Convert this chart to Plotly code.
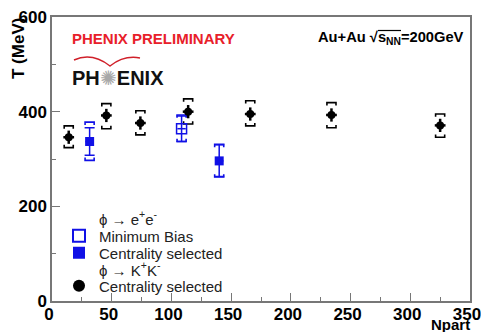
import plotly.graph_objects as go

# ---- data ----
kk_npart = [14, 45.5, 74, 114, 166, 234, 325]
kk_T = [346, 392, 376, 400, 395, 393, 371]
kk_stat = [14, 14, 14, 14, 14, 14, 14]
kk_xerr = [4.5, 4.5, 4.5, 4.5, 4.5, 4.5, 4.5]
kk_sys_hi = [370, 417, 402, 427, 423, 419, 395]
kk_sys_lo = [324, 364, 351, 374, 370, 366, 346]

ee_cent_npart = [31.5, 140]
ee_cent_T = [337, 296]
ee_cent_stat_up = [29, 34]
ee_cent_stat_dn = [29, 33]
ee_cent_sys_hi = [378, 331]
ee_cent_sys_lo = [297, 262]

ee_mb_npart = [108.5]
ee_mb_T = [364]
ee_mb_stat = [27]
ee_mb_sys_hi = [393]
ee_mb_sys_lo = [337]

x_ticks = [0, 50, 100, 150, 200, 250, 300, 350]
y_ticks = [0, 200, 400, 600]

BLUE = "#1010e6"
FONT = "Liberation Sans, Arial, sans-serif"

# plot area in pixels (for paper-coordinate decorations)
L, R, T, B = 52, 470, 17, 301


def px(xp, yp):
    return (xp - L) / (R - L), (B - yp) / (B - T)


def brackets(xs, his, los, w=3.8, h=6):
    bx, by = [], []
    for x, hi, lo in zip(xs, his, los):
        bx += [x - w, x - w, x + w, x + w, None, x - w, x - w, x + w, x + w, None]
        by += [hi - h, hi, hi, hi - h, None, lo + h, lo, lo, lo + h, None]
    return bx, by


fig = go.Figure()

# systematic brackets
for xs, his, los, col in [
    (kk_npart, kk_sys_hi, kk_sys_lo, "black"),
    (ee_cent_npart, ee_cent_sys_hi, ee_cent_sys_lo, BLUE),
    (ee_mb_npart, ee_mb_sys_hi, ee_mb_sys_lo, BLUE),
]:
    bx, by = brackets(xs, his, los)
    fig.add_trace(go.Scatter(x=bx, y=by, mode="lines", line=dict(color=col, width=1.6),
                             showlegend=False, hoverinfo="skip"))

# legend headers / points (one legend per row for exact spacing)
fig.add_trace(go.Scatter(x=[None], y=[None], mode="markers", name="ϕ → e<sup>+</sup>e<sup>-</sup>",
                         marker=dict(size=1, color="rgba(0,0,0,0)"), legend="legend"))
fig.add_trace(go.Scatter(x=ee_mb_npart, y=ee_mb_T, mode="markers", name="Minimum Bias",
                         marker=dict(symbol="square-open", size=10, color=BLUE, line=dict(width=1.5)),
                         error_y=dict(type="data", array=ee_mb_stat, color=BLUE, thickness=1.5, width=5),
                         error_x=dict(type="data", array=[3.5], color=BLUE, thickness=1.5, width=0),
                         legend="legend2"))
fig.add_trace(go.Scatter(x=ee_cent_npart, y=ee_cent_T, mode="markers", name="Centrality selected",
                         marker=dict(symbol="square", size=9, color=BLUE),
                         error_y=dict(type="data", array=ee_cent_stat_up, arrayminus=ee_cent_stat_dn,
                                      color=BLUE, thickness=1.5, width=5),
                         error_x=dict(type="data", array=[3.5, 3.5], color=BLUE, thickness=1.5, width=0),
                         legend="legend3"))
fig.add_trace(go.Scatter(x=[None], y=[None], mode="markers", name="ϕ → K<sup>+</sup>K<sup>-</sup>",
                         marker=dict(size=1, color="rgba(0,0,0,0)"), legend="legend4"))
fig.add_trace(go.Scatter(x=kk_npart, y=kk_T, mode="markers", name="Centrality selected",
                         marker=dict(symbol="circle", size=8, color="black"),
                         error_y=dict(type="data", array=kk_stat, color="black", thickness=2.5, width=0),
                         error_x=dict(type="data", array=kk_xerr, color="black", thickness=2.5, width=0),
                         legend="legend5"))

axis_common = dict(showline=True, linecolor="#777", linewidth=1.5, mirror=True,
                   ticks="inside", ticklen=8, tickcolor="#777", tickwidth=1.2,
                   showgrid=False, zeroline=False, automargin=False,
                   ticklabeloverflow="allow",
                   tickfont=dict(family=FONT, size=17, color="black", weight="bold"))


def leg(ypix):
    return dict(x=px(59, 0)[0], y=px(0, ypix)[1], xanchor="left", yanchor="middle",
                bgcolor="rgba(0,0,0,0)", borderwidth=0,
                font=dict(family=FONT, size=15, color="#222"), itemsizing="constant")


fig.update_layout(
    width=481, height=332,
    margin=dict(l=L, r=481 - R, t=T, b=332 - B, autoexpand=False),
    paper_bgcolor="white", plot_bgcolor="white",
    font=dict(family=FONT, color="black"),
    xaxis=dict(range=[0, 350], tickvals=x_ticks, ticklabelstandoff=-3, ticklabelshift=-3,
               minor=dict(dtick=25, ticklen=4, ticks="inside", tickcolor="#777"),
               **axis_common),
    yaxis=dict(range=[0, 600], tickvals=y_ticks,
               minor=dict(dtick=100, ticklen=4, ticks="inside", tickcolor="#777"),
               **axis_common),
    legend=leg(219), legend2=leg(236), legend3=leg(253), legend4=leg(270), legend5=leg(286),
    showlegend=True,
)

# text annotations
fig.add_annotation(xref="paper", yref="paper", x=px(19, 0)[0], y=px(0, 49)[1],
                   xanchor="center", yanchor="middle",
                   text="<b>T (MeV)</b>", textangle=-90, showarrow=False,
                   font=dict(family=FONT, size=17, color="black"))
fig.add_annotation(xref="paper", yref="paper", x=px(450, 0)[0], y=px(0, 325)[1],
                   xanchor="center", yanchor="middle",
                   text="<b>Npart</b>", showarrow=False,
                   font=dict(family=FONT, size=15, color="black"))
fig.add_annotation(xref="paper", yref="paper", x=px(70, 0)[0], y=px(0, 38)[1],
                   xanchor="left", yanchor="middle",
                   text="<b>PHENIX PRELIMINARY</b>", showarrow=False,
                   font=dict(family=FONT, size=15, color="#e8202a"))
fig.add_annotation(xref="paper", yref="paper", x=px(466, 0)[0], y=px(0, 38)[1],
                   xanchor="right", yanchor="middle",
                   text="<b>Au+Au √s<sub>NN</sub>=200GeV</b>",
                   showarrow=False, font=dict(family=FONT, size=14.7, color="black"))
# overline of the square root
o0, o1 = px(378, 30.5), px(401, 30.5)
fig.add_shape(type="line", xref="paper", yref="paper", x0=o0[0], y0=o0[1], x1=o1[0], y1=o1[1],
              line=dict(color="black", width=1.2))
fig.add_annotation(xref="paper", yref="paper", x=px(70, 0)[0], y=px(0, 78)[1],
                   xanchor="left", yanchor="middle",
                   text="<b>PH</b><span style='color:#a8a8a8'>✺</span><b>ENIX</b>", showarrow=False,
                   font=dict(family=FONT, size=20, color="#111"))
# logo arc
p0, c0, m, c1, p1 = px(74, 60), px(92, 52), px(110, 66), px(124, 55), px(140, 58)
fig.add_shape(type="path", xref="paper", yref="paper",
              path=f"M {p0[0]},{p0[1]} Q {c0[0]},{c0[1]} {m[0]},{m[1]} Q {c1[0]},{c1[1]} {p1[0]},{p1[1]}",
              line=dict(color="#d0202a", width=1.5))

fig.write_html("out.html", config={"displayModeBar": False},
               post_script="document.body.style.margin='0';document.body.style.overflow='hidden';")
